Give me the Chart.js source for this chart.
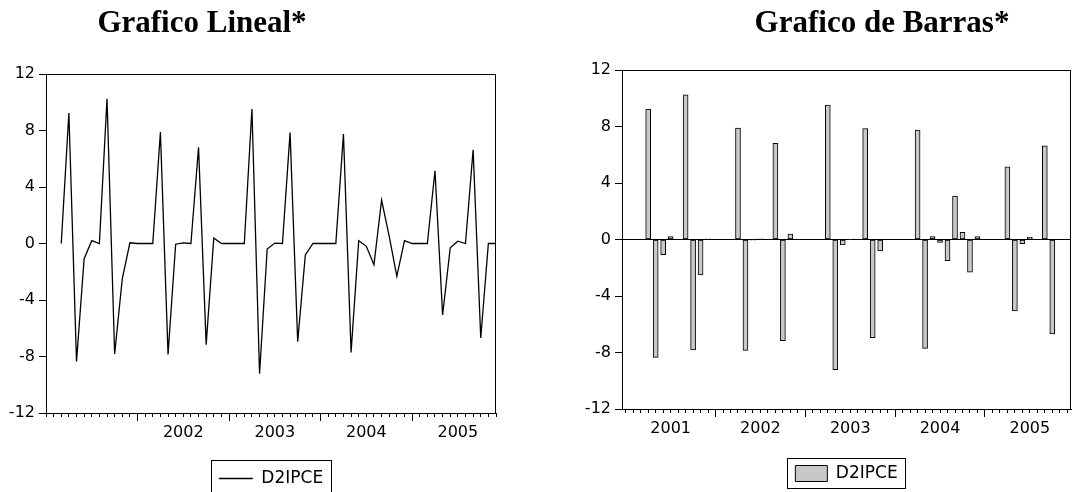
<!DOCTYPE html>
<html>
<head>
<meta charset="utf-8">
<script src="https://cdn.jsdelivr.net/npm/chart.js@4"></script>
<style>
  body { margin: 0; background: #fff; overflow: hidden; }
  .box { position: absolute; top: 0; width: 536px; height: 500px; }
</style>
</head>
<body>
<div class="box" style="left:0"><canvas id="lineChart"></canvas></div>
<div class="box" style="left:536px"><canvas id="barChart"></canvas></div>
<script>
// monthly D2IPCE, 2001M01 - 2005M12
const years = ['2001', '2002', '2003', '2004', '2005'];
const lineYearLabels = ['', '2002', '2003', '2004', '2005'];
const barYearLabels = ['2001', '2002', '2003', '2004', '2005'];
const yTicks = [-12, -8, -4, 0, 4, 8, 12];

const d2ipce2001 = [null, null, 0, 9.24, -8.35, -1.08, 0.2, 0, 10.25, -7.82, -2.51, 0.05];
const d2ipce2002 = [0, 0, 0, 7.89, -7.85, -0.05, 0.05, 0, 6.81, -7.16, 0.39, 0];
const d2ipce2003 = [0, 0, 0, 9.52, -9.22, -0.39, 0.03, 0, 7.85, -6.95, -0.81, 0];
const d2ipce2004 = [0, 0, 0, 7.75, -7.71, 0.2, -0.2, -1.5, 3.08, 0.5, -2.32, 0.2];
const d2ipce2005 = [0, 0, 0, 5.15, -5.06, -0.3, 0.16, 0, 6.64, -6.69, 0, 0];

const months = [];
years.forEach(y => {
  for (let m = 1; m <= 12; m++) months.push(y + 'M' + String(m).padStart(2, '0'));
});
const d2ipce = [].concat(d2ipce2001, d2ipce2002, d2ipce2003, d2ipce2004, d2ipce2005);

Chart.defaults.font.family = '"DejaVu Sans", sans-serif';
Chart.defaults.font.size = 16;
Chart.defaults.color = '#000';
Chart.defaults.animation = false;

// title text, outer frame of the plot and the boxed legend
const decor = {
  id: 'decor',
  afterDraw(chart, args, opts) {
    const ctx = chart.ctx;
    const a = chart.chartArea;
    ctx.save();
    ctx.font = 'bold 31px "Liberation Serif"';
    ctx.fillStyle = '#000';
    ctx.textAlign = 'center';
    ctx.textBaseline = 'alphabetic';
    ctx.fillText(opts.title, opts.titleX, opts.titleY);

    ctx.strokeStyle = '#000';
    ctx.lineWidth = 1;
    ctx.strokeRect(Math.round(a.left) + 0.5, Math.round(a.top) + 0.5,
      Math.round(a.right - a.left) - 1, Math.round(a.bottom - a.top));

    const hb = chart.legend.legendHitBoxes[0];
    if (hb) {
      const f = opts.frame;
      ctx.strokeRect(Math.round(hb.left - f.x) + 0.5, Math.round(hb.top - f.top) + 0.5,
        Math.round(hb.width + 2 * f.x), Math.round(hb.height + f.top + f.bottom));
    }
    ctx.restore();
  }
};

function yAxis(width, zeroLine) {
  return {
    min: -12, max: 12,
    afterBuildTicks: s => { s.ticks = yTicks.map(v => ({ value: v })); },
    afterFit: s => { s.width = width; },
    border: { display: true, color: '#000' },
    grid: {
      drawOnChartArea: zeroLine,
      tickLength: 7,
      color: c => (c.tick && c.tick.value === 0 && zeroLine) ? '#000' : 'rgba(0,0,0,0)',
      tickColor: '#000'
    },
    ticks: { padding: 4, color: '#000' }
  };
}

function xAxes(offset, yearLabels, height) {
  return {
    x: {
      type: 'category', position: 'bottom', weight: 0, offset: offset,
      afterFit: s => { s.height = 0; },
      border: { display: true, color: '#000' },
      grid: { drawOnChartArea: false, tickLength: 4, color: '#000', offset: false },
      ticks: { display: false }
    },
    xYear: {
      type: 'category', position: 'bottom', weight: 1, offset: offset,
      labels: months,
      afterFit: s => { s.height = height; },
      border: { display: false },
      grid: {
        drawOnChartArea: false, tickLength: 8, offset: false,
        color: c => (c.index % 12 === 0 && c.index > 0) ? '#000' : 'rgba(0,0,0,0)'
      },
      ticks: {
        autoSkip: false, maxRotation: 0, padding: 2,
        callback: (v, i) => i % 12 === 6 ? yearLabels[Math.floor(i / 12)] : ''
      }
    }
  };
}

new Chart(document.getElementById('lineChart'), {
  type: 'line',
  data: {
    labels: months,
    datasets: [{
      label: 'D2IPCE',
      data: d2ipce,
      borderColor: '#000',
      backgroundColor: '#000',
      borderWidth: 1.3,
      pointRadius: 0,
      tension: 0
    }]
  },
  options: {
    responsive: true,
    maintainAspectRatio: false,
    layout: { padding: { top: 74, right: 40, bottom: 3, left: 0 } },
    scales: Object.assign({ y: yAxis(46, false) }, xAxes(false, lineYearLabels, 47)),
    plugins: {
      tooltip: { enabled: false },
      legend: {
        position: 'bottom', fullSize: false,
        labels: { font: { size: 17 }, boxWidth: 34, boxHeight: 0, padding: 10 }
      },
      decor: { title: 'Grafico Lineal*', titleX: 202, titleY: 32, frame: { x: 8, top: 10, bottom: 7 } }
    }
  },
  plugins: [decor]
});

new Chart(document.getElementById('barChart'), {
  type: 'bar',
  data: {
    labels: months,
    datasets: [{
      label: 'D2IPCE',
      data: d2ipce,
      backgroundColor: '#c8c8c8',
      borderColor: '#000',
      borderWidth: 1,
      borderSkipped: false,
      barThickness: 5
    }]
  },
  options: {
    responsive: true,
    maintainAspectRatio: false,
    layout: { padding: { top: 70, right: 1, bottom: 8, left: 0 } },
    scales: Object.assign({ y: yAxis(86, true) }, xAxes(true, barYearLabels, 46)),
    plugins: {
      tooltip: { enabled: false },
      legend: {
        position: 'bottom', fullSize: false,
        labels: { font: { size: 17 }, boxWidth: 32, boxHeight: 16, padding: 10 }
      },
      decor: { title: 'Grafico de Barras*', titleX: 346, titleY: 32, frame: { x: 8, top: 7, bottom: 6 } }
    }
  },
  plugins: [decor]
});
</script>
</body>
</html>
